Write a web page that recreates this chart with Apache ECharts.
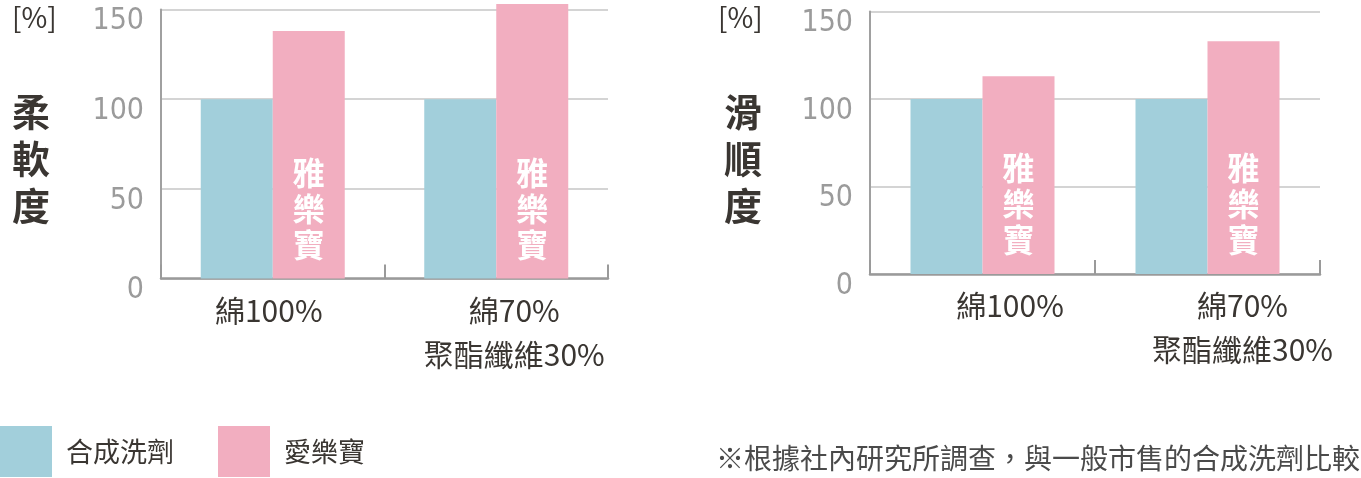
<!DOCTYPE html>
<html>
<head>
<meta charset="utf-8">
<script src="https://cdn.jsdelivr.net/npm/echarts@6/dist/echarts.min.js"></script>
<style>
  html, body { margin: 0; padding: 0; background: #fff; }
  #main { width: 1361px; height: 478px; }
</style>
</head>
<body>
<div id="main"></div>
<script>
// 資料
var categories = ['綿100%', '綿70%\n聚酯纖維30%'];
var seriesNames = ['合成洗劑', '愛樂寶'];
var softBase = [100, 100];      // 柔軟度 - 合成洗劑
var softOurs = [138, 153];      // 柔軟度 - 愛樂寶
var smoothBase = [100, 100];    // 滑順度 - 合成洗劑
var smoothOurs = [113, 133];    // 滑順度 - 愛樂寶
var yTicks = [0, 50, 100, 150];
var barText = '雅\n樂\n寶';
var footnote = '※根據社內研究所調查，與一般市售的合成洗劑比較';

var BLUE = '#a2cfdb';
var PINK = '#f2aec0';
var DARK = '#3a3632';
var CJK = '"Noto Sans CJK TC", "Noto Sans CJK SC", sans-serif';

var myChart = echarts.init(document.getElementById('main'));

function xAxisFor(gridIndex, pads) {
    var rich = {};
    pads.forEach(function (p, i) {
        rich['p' + i] = { fontSize: 30, lineHeight: 44, color: DARK, fontFamily: CJK, padding: p };
    });
    return {
        type: 'category',
        gridIndex: gridIndex,
        data: categories,
        axisLine: { lineStyle: { color: '#9a9a9a', width: 2.5 } },
        axisTick: { show: true, inside: true, length: 14, lineStyle: { color: '#9a9a9a', width: 2 } },
        axisLabel: {
            margin: 10,
            formatter: function (value, index) {
                return value.split('\n').map(function (s) { return '{p' + index + '|' + s + '}'; }).join('\n');
            },
            rich: rich
        }
    };
}

function yAxisFor(gridIndex) {
    return {
        type: 'value',
        gridIndex: gridIndex,
        min: yTicks[0],
        max: yTicks[yTicks.length - 1],
        interval: yTicks[1] - yTicks[0],
        axisLine: { show: true, lineStyle: { color: '#a0a0a0', width: 2 } },
        axisTick: { show: false },
        splitLine: { lineStyle: { color: '#d4d4d4', width: 2 } },
        axisLabel: {
            margin: 17,
            color: '#9b9b9b',
            fontSize: 30,
            lineHeight: 24,
            verticalAlign: 'top',
            fontFamily: '"Liberation Sans Narrow", "DejaVu Sans Condensed", sans-serif'
        }
    };
}

function barSeries(name, data, idx, color, withLabel) {
    return {
        name: name,
        type: 'bar',
        xAxisIndex: idx,
        yAxisIndex: idx,
        data: data,
        clip: false,
        barWidth: 72,
        barGap: '0%',
        itemStyle: { color: color },
        label: {
            show: withLabel,
            position: 'insideBottom',
            distance: 16,
            formatter: barText,
            color: '#fff',
            fontSize: 32,
            lineHeight: 36,
            fontWeight: 'bold',
            fontFamily: CJK
        }
    };
}

var option = {
    backgroundColor: '#fff',
    animation: false,
    grid: [
        { left: 161, top: 9.5, width: 447, height: 269 },
        { left: 870, top: 11.5, width: 450, height: 262.5 }
    ],
    legend: {
        left: 0,
        top: 426,
        padding: 0,
        itemWidth: 52,
        itemHeight: 51,
        itemGap: 44,
        icon: 'rect',
        data: seriesNames,
        textStyle: { fontSize: 27, color: DARK, fontFamily: CJK, padding: [0, 0, 0, 9] }
    },
    xAxis: [
        xAxisFor(0, [[0, 8, 0, 0], [0, 0, 0, 36]]),
        xAxisFor(1, [[0, 0, 0, 55], [0, 0, 0, 70]])
    ],
    yAxis: [yAxisFor(0), yAxisFor(1)],
    series: [
        barSeries(seriesNames[0], softBase, 0, BLUE, false),
        barSeries(seriesNames[1], softOurs, 0, PINK, true),
        barSeries(seriesNames[0], smoothBase, 1, BLUE, false),
        barSeries(seriesNames[1], smoothOurs, 1, PINK, true)
    ],
    graphic: [
        { type: 'text', left: 12, top: 3, style: { text: '[%]', fontSize: 28, fill: DARK, fontFamily: CJK } },
        { type: 'text', left: 12, top: 88, style: { text: '柔\n軟\n度', fontSize: 38, lineHeight: 47, fontWeight: 'bold', fill: DARK, fontFamily: CJK } },
        { type: 'text', left: 718, top: 3, style: { text: '[%]', fontSize: 28, fill: DARK, fontFamily: CJK } },
        { type: 'text', left: 724, top: 88, style: { text: '滑\n順\n度', fontSize: 38, lineHeight: 47, fontWeight: 'bold', fill: DARK, fontFamily: CJK } },
        { type: 'text', left: 716, top: 444, style: { text: footnote, fontSize: 28, fill: '#4a4a4a', fontFamily: CJK } }
    ]
};

myChart.setOption(option);
window.addEventListener('resize', function () {
    myChart.resize();
});
</script>
</body>
</html>
